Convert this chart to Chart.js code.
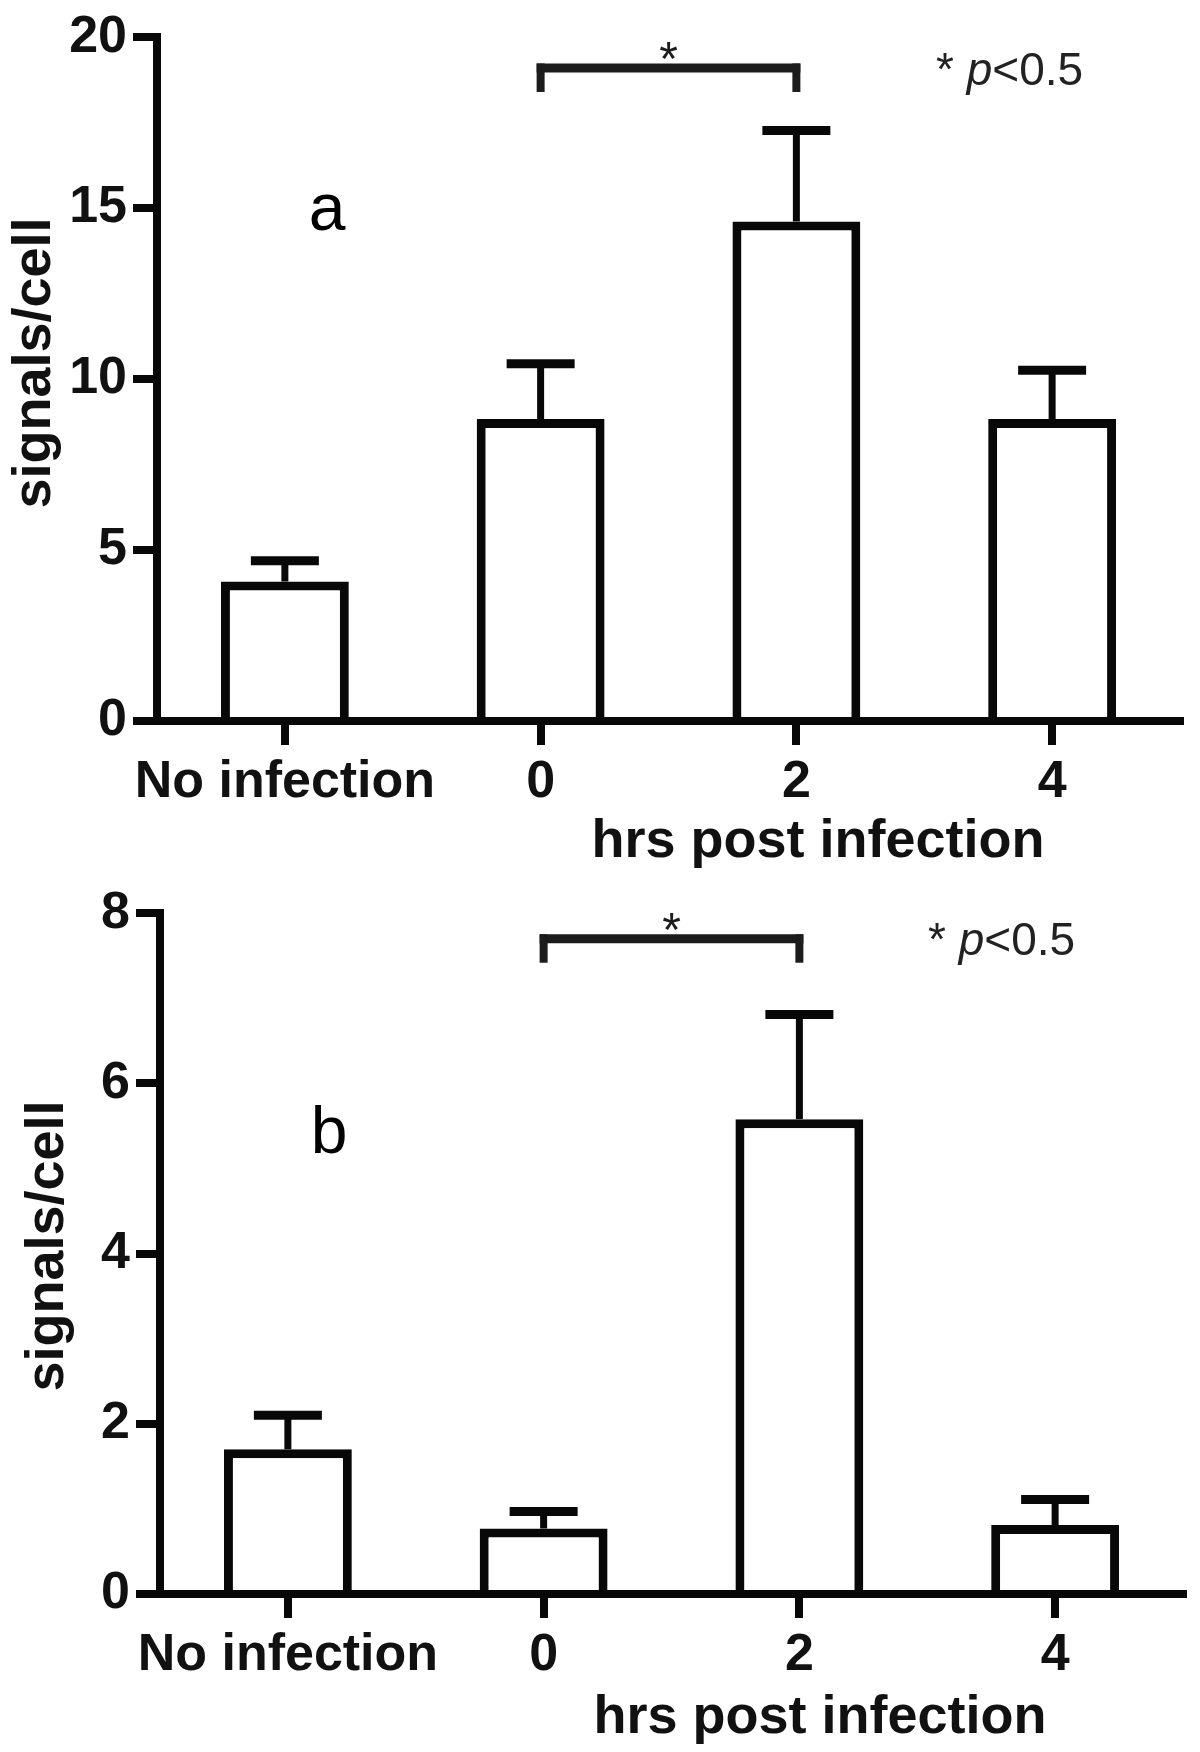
<!DOCTYPE html>
<html><head><meta charset="utf-8">
<script src="https://cdn.jsdelivr.net/npm/chart.js@4.4.1/dist/chart.umd.min.js"></script>
<style>
html,body{margin:0;padding:0;background:#fff;}
canvas{display:block;}
</style></head><body>
<canvas id="ca" width="1200" height="876"></canvas>
<canvas id="cb" width="1200" height="876"></canvas>
<script>
// ---- data ----
const categories = ['No infection', '0', '2', '4'];
const meanA = [4.08, 8.83, 14.61, 8.83];
const semA  = [0.61, 1.62, 2.66, 1.43];
const meanB = [1.70, 0.77, 5.58, 0.81];
const semB  = [0.40, 0.20, 1.23, 0.30];
const yTicksA = [0, 5, 10, 15, 20];
const yTicksB = [0, 2, 4, 6, 8];
const panelLabels = ['a', 'b'];
const xTitle = 'hrs post infection';
const yTitle = 'signals/cell';
const sigPair = [1, 2];          // categories joined by the bracket
const bracketLevelA = 19.1;
const bracketLevelB = 7.7;

const FONT = '"Liberation Sans", Arial, Helvetica, sans-serif';

function decor(cfg) {
  return {
    id: 'decor_' + cfg.name,
    afterDatasetsDraw(chart) {
      const ctx = chart.ctx, xs = chart.scales.x, ys = chart.scales.y;
      const meta = chart.getDatasetMeta(0);
      ctx.save();
      ctx.strokeStyle = '#080808';
      ctx.lineCap = 'butt';
      // error bars
      meta.data.forEach((bar, i) => {
        const cx = bar.x, top = bar.y;
        const capY = ys.getPixelForValue(cfg.mean[i] + cfg.sem[i]);
        ctx.lineWidth = 7;
        ctx.beginPath(); ctx.moveTo(cx, top); ctx.lineTo(cx, capY); ctx.stroke();
        ctx.lineWidth = 9;
        ctx.beginPath(); ctx.moveTo(cx - 34, capY); ctx.lineTo(cx + 34, capY); ctx.stroke();
      });
      // significance bracket
      const x1 = xs.getPixelForValue(sigPair[0]), x2 = xs.getPixelForValue(sigPair[1]);
      const by = ys.getPixelForValue(cfg.bracket);
      ctx.strokeStyle = '#1c1c1c';
      ctx.lineWidth = 9;
      ctx.beginPath(); ctx.moveTo(x1 - 4, by); ctx.lineTo(x2 + 4, by); ctx.stroke();
      ctx.lineWidth = 8;
      ctx.beginPath(); ctx.moveTo(x1, by - 4.5); ctx.lineTo(x1, by + 24); ctx.stroke();
      ctx.beginPath(); ctx.moveTo(x2, by - 4.5); ctx.lineTo(x2, by + 24); ctx.stroke();
      ctx.fillStyle = '#1c1c1c';
      ctx.textAlign = 'center';
      ctx.textBaseline = 'alphabetic';
      ctx.font = '48px ' + FONT;
      ctx.fillText('*', (x1 + x2) / 2, by + 7);

      // p-value note
      let px = cfg.noteX;
      ctx.textAlign = 'left';
      ctx.fillStyle = '#222';
      ctx.font = '46px ' + FONT;
      ctx.fillText('* ', px, cfg.noteY); px += ctx.measureText('* ').width;
      ctx.font = 'italic 46px ' + FONT;
      ctx.fillText('p', px, cfg.noteY); px += ctx.measureText('p').width;
      ctx.font = '46px ' + FONT;
      ctx.fillText('<0.5', px, cfg.noteY);

      // panel letter
      ctx.fillStyle = '#000';
      ctx.textAlign = 'center';
      ctx.font = '66px ' + FONT;
      ctx.fillText(cfg.letter, cfg.letterX, cfg.letterY);

      // x title
      ctx.font = 'bold 54px ' + FONT;
      ctx.fillStyle = '#111';
      ctx.fillText(xTitle, cfg.xTitleX, cfg.xTitleY);

      // y title
      ctx.save();
      ctx.translate(cfg.yTitleX, cfg.yTitleY);
      ctx.rotate(-Math.PI / 2);
      ctx.fillText(yTitle, 0, 0);
      ctx.restore();
      ctx.restore();
    }
  };
}

function makeChart(id, mean, ticks, pad, yWidth, xHeight, cfg) {
  return new Chart(document.getElementById(id), {
    type: 'bar',
    data: {
      labels: categories,
      datasets: [{
        data: mean,
        backgroundColor: '#ffffff',
        borderColor: '#080808',
        borderWidth: 9,
        borderSkipped: 'start',
        barPercentage: 0.5,
        categoryPercentage: 1.0
      }]
    },
    options: {
      responsive: false,
      animation: false,
      devicePixelRatio: 1,
      layout: { padding: pad },
      plugins: { legend: { display: false }, tooltip: { enabled: false } },
      scales: {
        x: {
          offset: true,
          grid: { drawOnChartArea: false, drawTicks: true, tickLength: 24, lineWidth: 8, color: '#080808', offset: false },
          border: { display: true, width: 8, color: '#080808' },
          ticks: { color: '#111', font: { family: FONT, size: 52, weight: 'bold' }, padding: 6, maxRotation: 0, autoSkip: false },
          afterFit(s) { s.height = xHeight; }
        },
        y: {
          min: ticks[0],
          max: ticks[ticks.length - 1],
          ticks: { stepSize: ticks[1] - ticks[0], padding: 6, color: '#111', font: { family: FONT, size: 52, weight: 'bold' } },
          grid: { drawOnChartArea: false, drawTicks: true, tickLength: 24, lineWidth: 8, color: '#080808' },
          border: { display: true, width: 8, color: '#080808' },
          afterFit(s) { s.width = yWidth; }
        }
      }
    },
    plugins: [decor(cfg)]
  });
}

makeChart('ca', meanA, yTicksA, { top: 35, right: 20, left: 0, bottom: 0 }, 157, 155, {
  name: 'a', mean: meanA, sem: semA, bracket: bracketLevelA,
  noteX: 936, noteY: 85, letter: panelLabels[0], letterX: 327, letterY: 230,
  xTitleX: 818, xTitleY: 857, yTitleX: 50, yTitleY: 363
});
makeChart('cb', meanB, yTicksB, { top: 32, right: 17, left: 0, bottom: 0 }, 160, 158, {
  name: 'b', mean: meanB, sem: semB, bracket: bracketLevelB,
  noteX: 928, noteY: 79, letter: panelLabels[1], letterX: 329, letterY: 277,
  xTitleX: 820, xTitleY: 857, yTitleX: 63, yTitleY: 370
});
</script>
</body></html>
